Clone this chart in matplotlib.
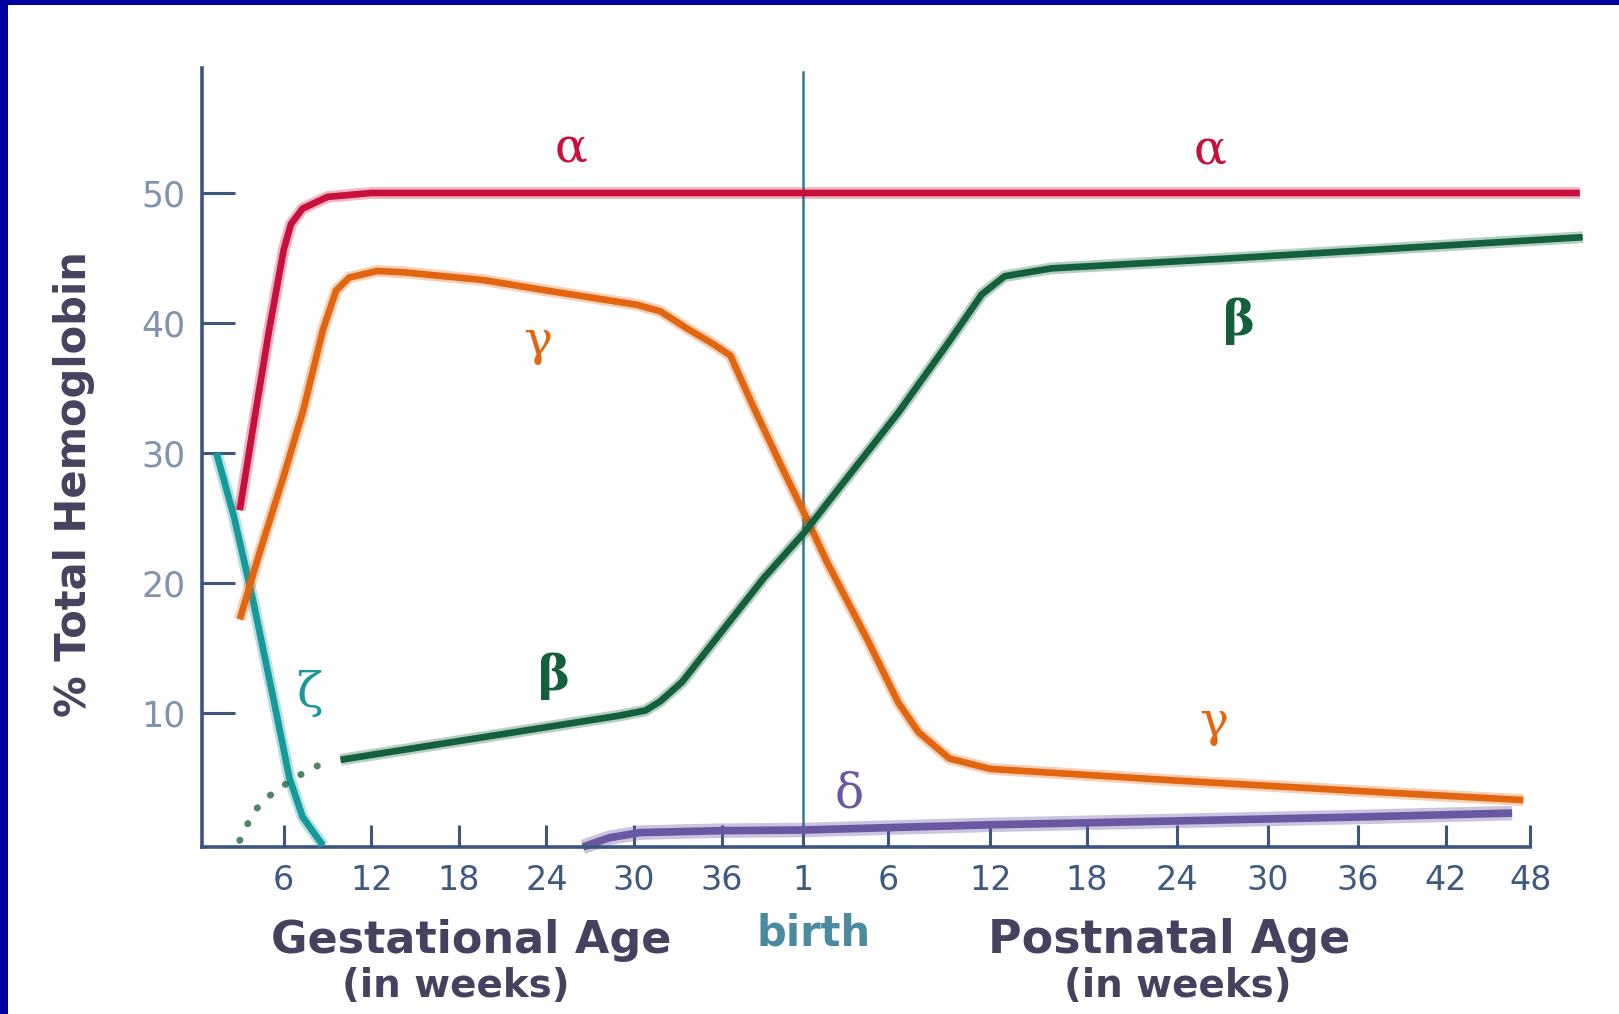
import numpy as np
import matplotlib
matplotlib.use("Agg")
import matplotlib.pyplot as plt
from matplotlib import font_manager
from matplotlib.patches import Rectangle

# ---------------- data ----------------
gest_ticks = [6, 12, 18, 24, 30, 36]
post_ticks = [1, 6, 12, 18, 24, 30, 36, 42, 48]
y_ticks = [10, 20, 30, 40, 50]

# alpha chain
alpha_gest_wk = [3.0, 4.0, 5.0, 6.0, 6.5, 7.3, 9.0, 12.0, 36.0]
alpha_gest_pct = [25.6, 32.6, 39.4, 45.6, 47.6, 48.8, 49.7, 50.0, 50.0]
alpha_post_wk = [1, 24, 51.5]
alpha_post_pct = [50.0, 50.0, 50.0]

# gamma chain
gamma_gest_wk = [3.0, 4.4, 6.0, 7.35, 8.7, 9.6, 10.5, 12.4, 14.2, 19.7, 24.0, 30.2, 31.8, 33.6, 35.4, 36.6, 38.2, 40.3]
gamma_gest_pct = [17.2, 22.5, 28.2, 33.3, 39.5, 42.5, 43.5, 44.0, 43.9, 43.3, 42.5, 41.4, 40.9, 39.6, 38.4, 37.5, 33.5, 28.5]
gamma_post_wk = [1, 2.4, 4.8, 6.6, 7.8, 9.6, 12.0, 24.0, 36.0, 47.5]
gamma_post_pct = [25.5, 21.6, 15.6, 10.8, 8.5, 6.5, 5.7, 4.8, 4.0, 3.3]

# beta chain (early part dotted)
beta_dot_wk = [3.0, 3.5, 4.2, 5.3, 6.9, 8.6]
beta_dot_pct = [0.2, 1.4, 2.7, 3.9, 5.1, 6.1]
beta_gest_wk = [9.9, 29.0, 30.8, 31.8, 33.3, 36.1, 38.9]
beta_gest_pct = [6.4, 9.8, 10.2, 10.9, 12.4, 16.4, 20.4]
beta_post_wk = [1, 6.6, 9.6, 11.5, 12.9, 15.8, 27.9, 51.7]
beta_post_pct = [23.8, 33.1, 38.6, 42.2, 43.6, 44.2, 45.0, 46.6]

# zeta chain
zeta_gest_wk = [1.4, 2.6, 3.9, 5.5, 6.4, 7.3, 8.7]
zeta_gest_pct = [30.0, 25.1, 18.7, 10.0, 5.0, 2.0, -0.2]

# delta chain
delta_gest_wk = [26.5, 28.3, 30.4, 36.0]
delta_gest_pct = [-0.3, 0.4, 0.8, 0.95]
delta_post_wk = [1, 12, 24, 36, 46.7]
delta_post_pct = [1.0, 1.4, 1.7, 2.0, 2.3]

# ---------------- layout ----------------
W_PX, H_PX = 1619, 1014
XMIN, XMAX = 0.4, 96.5
YMIN, YMAX = -0.3, 59.6
# positions of the postnatal ticks on the (gestational-week) drawing scale
POST_TICK_U = [41.6, 47.4, 54.4, 61.0, 67.2, 73.4, 79.6, 85.6, 91.4]


def post_u(p):
    p = np.asarray(p, float)
    u = np.interp(p, post_ticks, POST_TICK_U)
    slope = (POST_TICK_U[-1] - POST_TICK_U[-2]) / (post_ticks[-1] - post_ticks[-2])
    return np.where(p > post_ticks[-1], POST_TICK_U[-1] + (p - post_ticks[-1]) * slope, u)


names = {f.name for f in font_manager.fontManager.ttflist}
NARROW = 'Liberation Sans Narrow' if 'Liberation Sans Narrow' in names else None
SANS = 'DejaVu Sans'
SERIF = 'DejaVu Serif'

AX_C = '#3c567e'
XT_C = '#3d5a80'
YT_C = '#8093ae'
HEAD_C = '#44425e'
BIRTH_C = '#2f7a98'

C_ALPHA = '#c8103c'
C_GAMMA = '#e2650f'
C_BETA = '#13603a'
C_ZETA = '#16999b'
C_DELTA = '#6a57a2'

fig = plt.figure(figsize=(W_PX / 100, H_PX / 100), dpi=100)
fig.patch.set_facecolor('white')

left_px = 196 + 14.6 * XMIN
right_px = 196 + 14.6 * XMAX
top_px = 843 - 13 * YMAX
bot_px = 843 - 13 * YMIN
ax = fig.add_axes([left_px / W_PX, 1 - bot_px / H_PX,
                   (right_px - left_px) / W_PX, (bot_px - top_px) / H_PX])
ax.set_xlim(XMIN, XMAX)
ax.set_ylim(YMIN, YMAX)
ax.set_facecolor('none')

for s in ['top', 'right']:
    ax.spines[s].set_visible(False)
for s in ['left', 'bottom']:
    ax.spines[s].set_color(AX_C)
    ax.spines[s].set_linewidth(2.6)
ax.spines['bottom'].set_bounds(XMIN, POST_TICK_U[-1])

xt_pos = list(gest_ticks) + list(post_u(post_ticks))
xt_lab = [str(v) for v in gest_ticks] + [str(v) for v in post_ticks]
ax.set_xticks(xt_pos)
if NARROW:
    ax.set_xticklabels(xt_lab, family=NARROW, fontsize=28, color=XT_C)
else:
    ax.set_xticklabels(xt_lab, family=SANS, fontsize=24, color=XT_C)
ax.set_yticks(y_ticks)
ax.set_yticklabels([str(v) for v in y_ticks], family=SANS, fontsize=25, color=YT_C)
ax.tick_params(axis='x', direction='in', length=16, width=2.2, color=AX_C, pad=12)
ax.tick_params(axis='y', direction='in', length=24, width=2.2, color=AX_C, pad=12)

# birth line
ax.axvline(post_u(1), ymin=0, ymax=0.995, color=BIRTH_C, lw=1.8, zorder=1)


def curve(u, y, color, lw=4.8, halo=8.5, halo_alpha=0.3, z=3):
    ax.plot(u, y, color=color, lw=halo, alpha=halo_alpha, solid_capstyle='butt',
            solid_joinstyle='round', clip_on=False, zorder=z)
    ax.plot(u, y, color=color, lw=lw, solid_capstyle='butt',
            solid_joinstyle='round', clip_on=False, zorder=z + 0.1)


# delta
curve(np.concatenate([delta_gest_wk, post_u(delta_post_wk)]),
      delta_gest_pct + delta_post_pct, C_DELTA, lw=5.5, halo=10.5, halo_alpha=0.35, z=2)
# zeta
curve(zeta_gest_wk, zeta_gest_pct, C_ZETA, z=3)
# gamma
curve(np.concatenate([gamma_gest_wk, post_u(gamma_post_wk)]),
      gamma_gest_pct + gamma_post_pct, C_GAMMA, z=4)
# beta
curve(np.concatenate([beta_gest_wk, post_u(beta_post_wk)]),
      beta_gest_pct + beta_post_pct, C_BETA, z=5)
ax.plot(beta_dot_wk, beta_dot_pct, color=C_BETA, lw=5.0, alpha=0.75,
        linestyle=(0, (0.05, 2.6)), dash_capstyle='round', clip_on=False, zorder=5)
# alpha
curve(np.concatenate([alpha_gest_wk, post_u(alpha_post_wk)]),
      alpha_gest_pct + alpha_post_pct, C_ALPHA, z=6)

# chain labels
greek = dict(family=SERIF, fontsize=35, ha='center', va='center')
ax.text(25.7, 53.4, 'α', color=C_ALPHA, **greek)
ax.text(float(post_u(26.2)), 53.2, 'α', color=C_ALPHA, **greek)
ax.text(23.4, 38.6, 'γ', color=C_GAMMA, **greek)
ax.text(float(post_u(26.4)), 9.3, 'γ', color=C_GAMMA, **greek)
ax.text(24.5, 12.8, 'β', color=C_BETA, fontweight='bold', **greek)
ax.text(float(post_u(28.1)), 40.1, 'β', color=C_BETA, fontweight='bold', **greek)
ax.text(7.8, 11.5, 'ζ', color=C_ZETA, **greek)
ax.text(float(post_u(3.7)), 3.8, 'δ', color=C_DELTA, **greek)

# axis titles
if NARROW:
    fig.text(74 / W_PX, 1 - 484 / H_PX, '% Total Hemoglobin', rotation=90,
             ha='center', va='center', fontsize=37, fontweight='bold',
             family=NARROW, color=HEAD_C)
else:
    fig.text(74 / W_PX, 1 - 484 / H_PX, '% Total Hemoglobin', rotation=90,
             ha='center', va='center', fontsize=30, fontweight='bold',
             family=SANS, color=HEAD_C)
head = dict(family=SANS, fontweight='bold', ha='center', va='baseline')
fig.text(471 / W_PX, 1 - 953 / H_PX, 'Gestational Age', fontsize=32, color=HEAD_C, **head)
fig.text(456 / W_PX, 1 - 997 / H_PX, '(in weeks)', fontsize=28, color=HEAD_C, **head)
fig.text(1169 / W_PX, 1 - 953 / H_PX, 'Postnatal Age', fontsize=33, color=HEAD_C, **head)
fig.text(1178 / W_PX, 1 - 997 / H_PX, '(in weeks)', fontsize=28, color=HEAD_C, **head)
fig.text(814 / W_PX, 1 - 946 / H_PX, 'birth', fontsize=30, color='#4a8ba2', **head)

# dark blue frame on top and left
fig.patches.append(Rectangle((0, 0), 8 / W_PX, 1, transform=fig.transFigure,
                             facecolor='#0000a0', edgecolor='none', zorder=10))
fig.patches.append(Rectangle((0, 1 - 5 / H_PX), 1, 5 / H_PX, transform=fig.transFigure,
                             facecolor='#0000a0', edgecolor='none', zorder=10))

fig.savefig('out.png', dpi=100, facecolor='white')
